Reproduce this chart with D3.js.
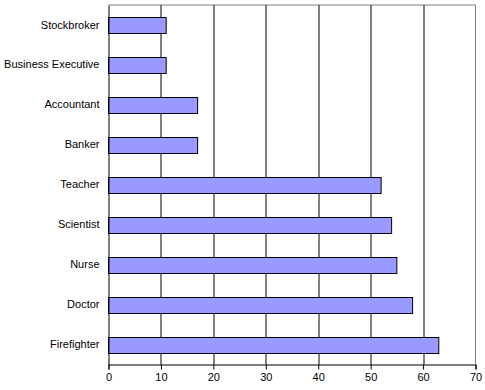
<!DOCTYPE html>
<html>
<head>
<meta charset="utf-8">
<script src="https://cdn.jsdelivr.net/npm/d3@7"></script>
<style>
    body { margin: 0; background: #fff; }
    text { font-family: "Liberation Sans", Arial, sans-serif; font-size: 11px; fill: #000; }
</style>
</head>
<body>
<div id="chart"></div>
<script>
const categories = ['Stockbroker', 'Business Executive', 'Accountant', 'Banker', 'Teacher',
    'Scientist', 'Nurse', 'Doctor', 'Firefighter'];
const values = [11, 11, 17, 17, 52, 54, 55, 58, 63];
const xTicks = [0, 10, 20, 30, 40, 50, 60, 70];

const margin = { top: 5, right: 9.5, bottom: 25.5, left: 108.5 };
const width = 485 - margin.left - margin.right;
const height = 390 - margin.top - margin.bottom;

const svg = d3.select('#chart')
    .append('svg')
    .attr('width', 485)
    .attr('height', 390)
    .append('g')
    .attr('transform', `translate(${margin.left}, ${margin.top})`);

const xScale = d3.scaleLinear()
    .domain([0, 70])
    .range([0, width]);

const yScale = d3.scaleBand()
    .domain(categories)
    .range([0, height])
    .paddingInner(0.6)
    .paddingOuter(0.3);

// Plot border (top/right gray)
svg.append('path')
    .attr('d', `M0,0H${width}V${height}`)
    .attr('fill', 'none')
    .attr('stroke', '#808080');

// Gridlines
svg.selectAll('.grid')
    .data(xTicks.filter(t => t > 0 && t < 70))
    .enter().append('line')
    .attr('class', 'grid')
    .attr('x1', d => Math.round(xScale(d)) + 0.5)
    .attr('x2', d => Math.round(xScale(d)) + 0.5)
    .attr('y1', 0)
    .attr('y2', height)
    .attr('stroke', '#000');

// Bars
svg.selectAll('.bar')
    .data(categories)
    .enter().append('rect')
    .attr('class', 'bar')
    .attr('x', 0)
    .attr('y', d => Math.round(yScale(d)) + 0.5)
    .attr('width', (d, i) => xScale(values[i]))
    .attr('height', Math.round(yScale.bandwidth()))
    .attr('fill', '#9999ff')
    .attr('stroke', '#000');

// Axes
const xAxis = svg.append('g')
    .attr('transform', `translate(0, ${height})`)
    .call(d3.axisBottom(xScale).tickValues(xTicks).tickSize(5).tickPadding(4));
xAxis.select('.domain').attr('stroke', '#000');
xAxis.selectAll('.tick line').attr('stroke', '#000');
xAxis.selectAll('text').style('font-size', '11px').attr('fill', '#000');

const yAxis = svg.append('g')
    .call(d3.axisLeft(yScale).tickSize(0).tickPadding(9));
yAxis.select('.domain').attr('stroke', '#000');
yAxis.selectAll('text').style('font-size', '11px').attr('fill', '#000');
</script>
</body>
</html>
